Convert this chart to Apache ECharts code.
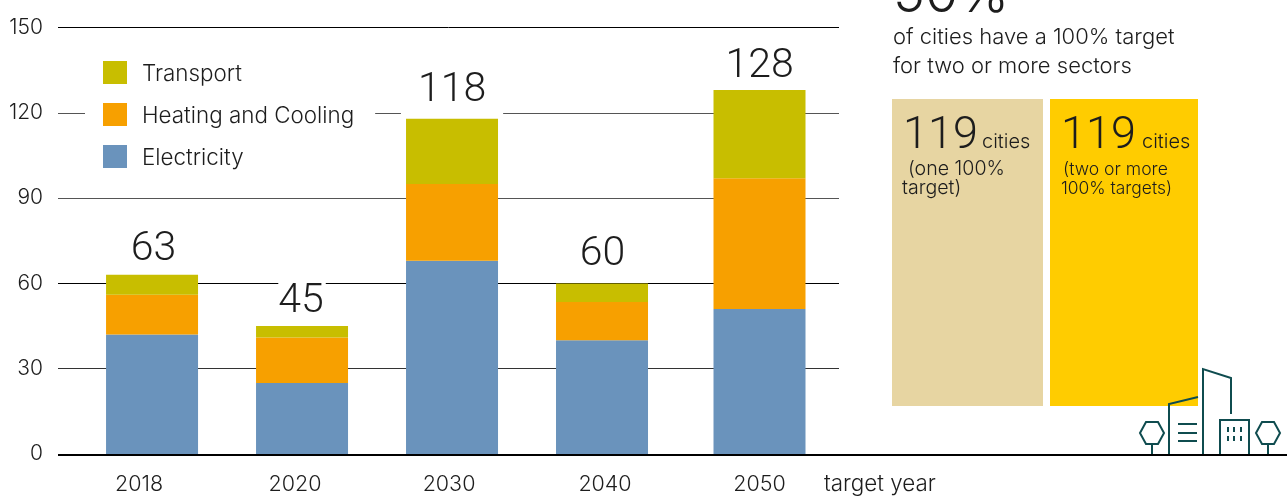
<!DOCTYPE html>
<html>
<head>
<meta charset="utf-8">
<script src="https://cdn.jsdelivr.net/npm/echarts@6/dist/echarts.min.js"></script>
<style>
  html, body { margin: 0; padding: 0; background: #fff; }
  #chart { width: 1287px; height: 496px; }
</style>
</head>
<body>
<div id="chart"></div>
<script>
const years = ['2018', '2020', '2030', '2040', '2050']
// slot of each bar and of each year label along the x axis (the last bar sits a bit further out)
const barSlots = [0, 1, 2, 3, 4.05]
const labelSlots = [-0.087, 0.953, 1.98, 3.02, 4.05]
const electricity = [42, 25, 68, 40, 51]
const heating = [14, 16, 27, 13.5, 46]
const transport = [7, 4, 23, 6.5, 31]
const totals = [63, 45, 118, 60, 128]
const yTicks = [0, 30, 60, 90, 120, 150]

// total labels: gap above the bar and white knock-out around the text
const totalDistance = [5, 4, 0, 8, 3]
const totalPadding = [[0, 0, 0, 3], [0, 2, 0, 0], [0, 17, 7, 17], [0, 0, 0, 1], [0, 0, 0, 0]]

const font = 'Inter'
const numberFont = 'Roboto'
const textColor = '#1d1d1d'
const iconColor = '#0F4C4F'

// value goes first so the stack runs over the y dimension
const pairs = arr => arr.map((v, i) => [v, barSlots[i]])

function line(points) {
  return {
    type: 'polyline',
    shape: { points: points },
    style: { stroke: iconColor, lineWidth: 2, fill: null },
    z: 10
  }
}
function text(x, baseline, str, size, family) {
  return {
    type: 'text',
    x: x,
    y: baseline - size * 0.36,
    style: { text: str, font: '300 ' + size + 'px ' + (family || font), fill: textColor, verticalAlign: 'middle' },
    z: 10
  }
}
function hexagon(cx, cy) {
  return {
    type: 'polygon',
    shape: { points: [[cx - 12, cy], [cx - 6, cy - 11], [cx + 6, cy - 11], [cx + 12, cy], [cx + 6, cy + 11], [cx - 6, cy + 11]] },
    style: { stroke: iconColor, lineWidth: 2, fill: '#fff' },
    z: 10
  }
}

const icon = [
  line([[1169, 455], [1169, 404], [1198, 397]]),
  line([[1203, 455], [1203, 369], [1231, 378], [1231, 414]]),
  line([[1220, 455], [1220, 420], [1249, 420], [1249, 455]]),
  line([[1178, 424], [1197, 424]]),
  line([[1178, 433], [1197, 433]]),
  line([[1178, 441], [1197, 441]]),
  hexagon(1152, 433),
  line([[1152, 444], [1152, 455]]),
  hexagon(1268, 433),
  line([[1268, 444], [1268, 455]])
]
;[1228, 1234, 1241].forEach(x => {
  ;[427, 436].forEach(y => {
    icon.push(line([[x, y], [x, y + 5]]))
  })
})

const chart = echarts.init(document.getElementById('chart'), null, { renderer: 'canvas' })
chart.setOption({
  animation: false,
  grid: { left: 58, right: 448, top: 27.5, bottom: 41 },
  legend: {
    left: 85,
    top: 43,
    orient: 'vertical',
    selectedMode: false,
    data: ['Transport', 'Heating and Cooling', 'Electricity'],
    itemWidth: 24,
    itemHeight: 23,
    itemGap: 17.5,
    padding: [18, 21, 12, 18],
    backgroundColor: '#fff',
    icon: 'rect',
    formatter: '{a|{name}}',
    textStyle: {
      padding: [0, 0, 0, 10],
      rich: { a: { fontFamily: font, fontWeight: 300, fontSize: 22.4, color: textColor, padding: [4, 0, 0, 0] } }
    }
  },
  xAxis: [{
    type: 'value',
    min: -0.627,
    max: 4.58,
    axisLine: { show: false },
    axisTick: { show: false },
    axisLabel: { show: false },
    splitLine: { show: false }
  }, {
    // carries the year labels only
    type: 'value',
    position: 'bottom',
    min: -0.627,
    max: 4.58,
    axisLine: { show: false },
    axisTick: { show: false },
    splitLine: { show: false },
    axisLabel: {
      customValues: labelSlots,
      formatter: v => years[labelSlots.indexOf(v)],
      fontFamily: font,
      fontWeight: 300,
      fontSize: 21.5,
      color: textColor,
      margin: 20
    }
  }],
  yAxis: {
    type: 'value',
    min: 0,
    max: 150,
    interval: 30,
    axisLine: { show: false },
    axisTick: { show: false },
    axisLabel: {
      formatter: v => yTicks.indexOf(v) >= 0 ? String(v) : '',
      fontFamily: font,
      fontWeight: 300,
      fontSize: 21,
      color: textColor,
      margin: 15,
      padding: [0, 0, 4, 0]
    },
    splitLine: { lineStyle: { color: ['#000', '#333', '#000', '#555', '#555', '#000'], width: 1 } }
  },
  series: [
    { name: 'Electricity', type: 'bar', stack: 'a', barWidth: 92, encode: { x: 1, y: 0 }, itemStyle: { color: '#6A93BC' }, data: pairs(electricity), z: 3 },
    { name: 'Heating and Cooling', type: 'bar', stack: 'a', barWidth: 92, encode: { x: 1, y: 0 }, itemStyle: { color: '#F7A000' }, data: pairs(heating), z: 3 },
    {
      name: 'Transport',
      type: 'bar',
      stack: 'a',
      barWidth: 92,
      encode: { x: 1, y: 0 },
      itemStyle: { color: '#C8BE00' },
      z: 3,
      data: pairs(transport).map((p, i) => ({
        value: p,
        label: {
          show: true,
          position: 'top',
          distance: totalDistance[i],
          formatter: () => String(totals[i]),
          fontFamily: numberFont,
          fontWeight: 300,
          fontSize: 41,
          color: textColor,
          backgroundColor: '#fff',
          padding: totalPadding[i]
        }
      }))
    }
  ],
  graphic: [
    { type: 'rect', shape: { x: 892, y: 99, width: 151, height: 307 }, style: { fill: '#E7D5A2' }, z: 1 },
    { type: 'rect', shape: { x: 1050, y: 99, width: 148, height: 307 }, style: { fill: '#FFCC00' }, z: 1 },
    text(893, 15, '50%', 54),
    text(893, 45, 'of cities have a 100% target', 22),
    text(893, 74, 'for two or more sectors', 22),
    text(903, 152.5, '119', 45, numberFont),
    text(982, 149, 'cities', 20),
    text(908, 176, '(one 100%', 19.6),
    text(902, 195, 'target)', 19.6),
    text(1061, 152.5, '119', 45, numberFont),
    text(1142, 149, 'cities', 20),
    text(1063, 176, '(two or more', 17.6),
    text(1061, 195, '100% targets)', 17.4),
    text(824, 492, 'target year', 22.4)
  ].concat(icon, [
    { type: 'line', shape: { x1: 58, y1: 455, x2: 1287, y2: 455 }, style: { stroke: '#000', lineWidth: 2 }, z: 11 }
  ])
})
</script>
</body>
</html>
